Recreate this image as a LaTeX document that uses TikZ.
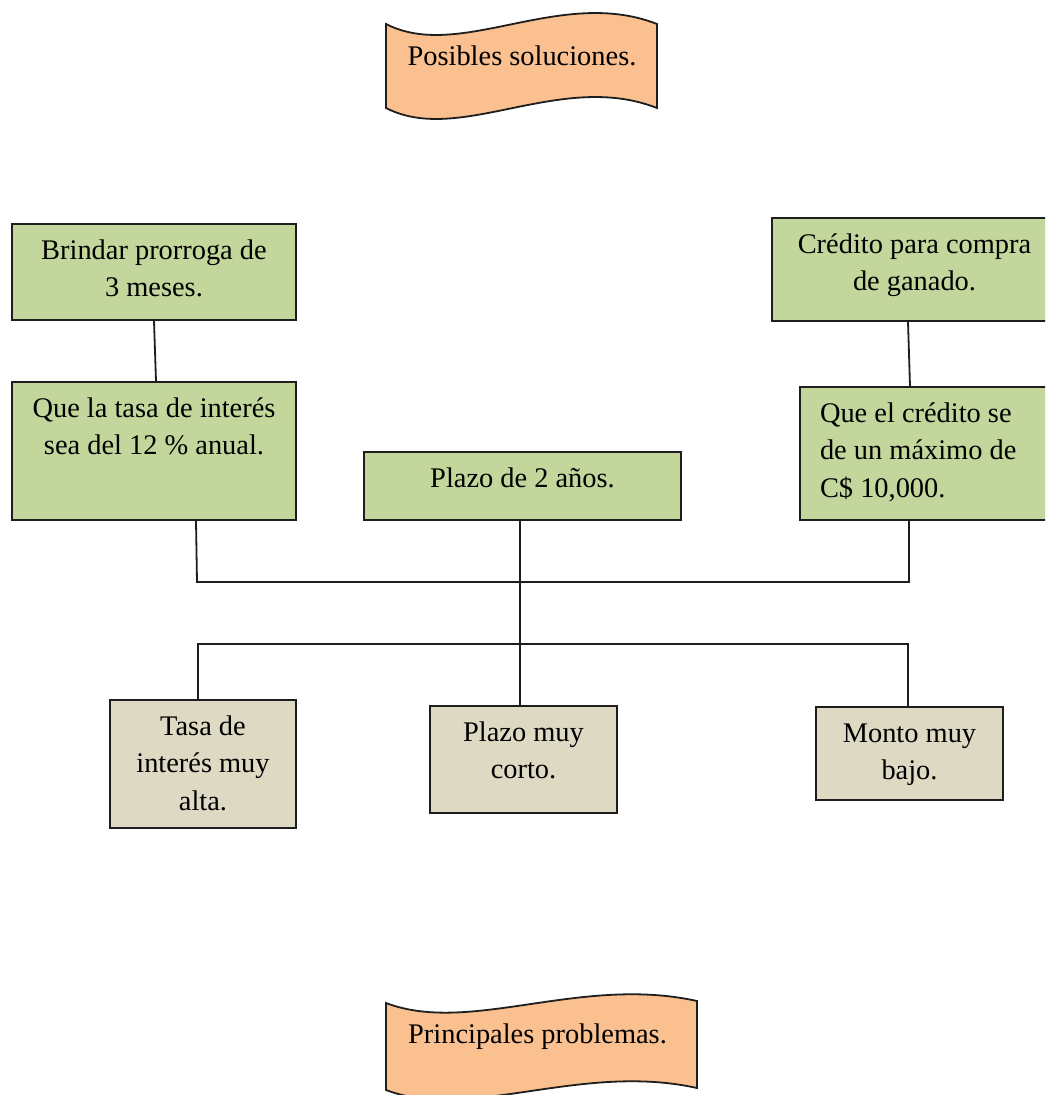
\documentclass[tikz,border=0pt]{standalone}
\usepackage{fontspec}
\setmainfont{Liberation Serif}
\usetikzlibrary{calc}

\definecolor{solgreen}{HTML}{C3D69B}
\definecolor{probtan}{HTML}{DDD9C3}
\definecolor{banner}{HTML}{FAC090}
\definecolor{ink}{HTML}{1E1E1E}

% Box content: fixed width and height, first baseline 35pt below the top edge
\newcommand\cellc[3]{\parbox[c][#2pt][t]{#1pt}{\centering\rule{0pt}{35pt}#3}}
\newcommand\celll[4]{\parbox[c][#2pt][t]{#1pt}{\raggedright\leftskip=#3pt\rule{0pt}{35pt}#4}}

\begin{document}
\begin{tikzpicture}[x=1pt, y=-1pt,
  font=\fontsize{28.4}{37.5}\selectfont,
  solbox/.style={draw=ink, line width=1.8pt, fill=solgreen, inner sep=0pt},
  probbox/.style={draw=ink, line width=1.8pt, fill=probtan, inner sep=0pt},
  wire/.style={draw=ink, line width=1.8pt},
  bannershape/.style={draw=ink, line width=1.8pt, fill=banner}]

\useasboundingbox (0,0) rectangle (1045,1095);
\fill[white] (0,0) rectangle (1045,1095);
\clip (0,0) rectangle (1045,1095);

% Banners
\path[bannershape] (386,24) .. controls (460,62) and (560,-14) .. (657,24)
  -- (657,108) .. controls (560,70) and (460,146) .. (386,108) -- cycle;
\node[anchor=base, inner sep=0pt] (soluciones) at (522,65) {Posibles soluciones.};

\path[bannershape] (386,1003) .. controls (470,1035) and (580,975) .. (697,1001)
  -- (697,1088) .. controls (580,1062) and (470,1122) .. (386,1090) -- cycle;
\node[anchor=base, inner sep=0pt] (problemas) at (537.5,1043) {Principales problemas.};

% Proposed solutions
\node[solbox] (prorroga) at (154,272) {\cellc{284}{96}{Brindar prorroga de\\3 meses.}};
\node[solbox] (tasa) at (154,451) {\cellc{284}{138}{Que la tasa de inter\'es\\sea del 12 \% anual.}};
\node[solbox] (plazo) at (522.5,486) {\cellc{317}{68}{Plazo de 2 a\~nos.}};
\node[solbox] (credito) at (914.5,269.5) {\cellc{285}{103}{Cr\'edito para compra\\de ganado.}};
\node[solbox] (monto) at (930,453.5) {\celll{260}{133}{20}{Que el cr\'edito se\\de un m\'aximo de\\C\$ 10,000.}};

% Main problems
\node[probbox] (ptasa) at (203,764) {\cellc{186}{128}{Tasa de\\inter\'es muy\\alta.}};
\node[probbox] (pplazo) at (523.5,759.5) {\cellc{187}{107}{Plazo muy\\corto.}};
\node[probbox] (pmonto) at (909.5,753.5) {\cellc{187}{93}{Monto muy\\bajo.}};

% Bus junctions
\coordinate (busA) at (520,582);
\coordinate (busB) at (520,644);

% Connectors
\draw[wire] (prorroga.south) -- ([xshift=2pt]tasa.north);
\draw[wire] ([xshift=-6.5pt]credito.south) -- ([xshift=-20pt]monto.north);
\draw[wire] ([xshift=42pt]tasa.south) -- ([xshift=43pt]tasa.south |- busA)
  -| ([xshift=-21pt]monto.south);
\draw[wire] ([xshift=-2.5pt]plazo.south) -- ([xshift=-3.5pt]pplazo.north);
\draw[wire] ([xshift=-5pt]ptasa.north) |- (busB) -| ([xshift=-1.5pt]pmonto.north);

\end{tikzpicture}
\end{document}
